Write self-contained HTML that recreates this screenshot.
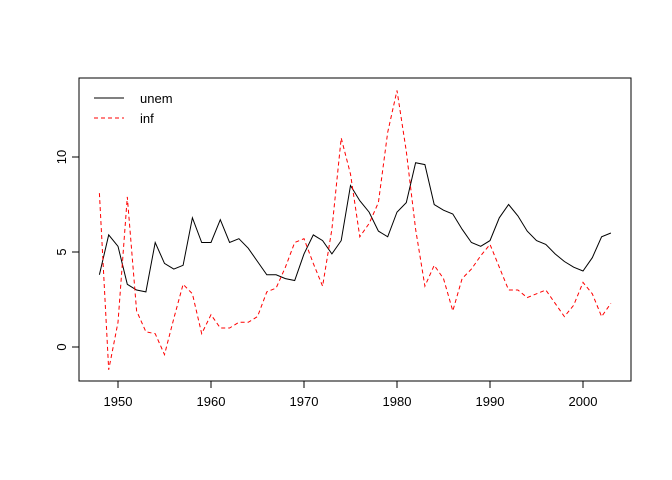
<!DOCTYPE html>
<html><head><meta charset="utf-8"><style>
body{margin:0;background:#fff}
svg{display:block;font-family:"Liberation Sans",Arial,sans-serif}
</style></head><body>
<svg id="chart" width="672" height="480">
<rect x="79" y="78" width="552" height="303" fill="none" stroke="#000"/>
<g id="axes"></g>
<g id="series"></g>
<g>
<line x1="94" y1="98" x2="124" y2="98" stroke="#000"/>
<text x="140" y="103" font-size="13">unem</text>
<line x1="94" y1="118" x2="124" y2="118" stroke="#f00" stroke-dasharray="4,3"/>
<text x="140" y="123" font-size="13">inf</text>
</g>
</svg>
<script>
const years=[1948,1949,1950,1951,1952,1953,1954,1955,1956,1957,1958,1959,1960,1961,1962,1963,1964,1965,1966,1967,1968,1969,1970,1971,1972,1973,1974,1975,1976,1977,1978,1979,1980,1981,1982,1983,1984,1985,1986,1987,1988,1989,1990,1991,1992,1993,1994,1995,1996,1997,1998,1999,2000,2001,2002,2003];
const unem=[3.8,5.9,5.3,3.3,3.0,2.9,5.5,4.4,4.1,4.3,6.8,5.5,5.5,6.7,5.5,5.7,5.2,4.5,3.8,3.8,3.6,3.5,4.9,5.9,5.6,4.9,5.6,8.5,7.7,7.1,6.1,5.8,7.1,7.6,9.7,9.6,7.5,7.2,7.0,6.2,5.5,5.3,5.6,6.8,7.5,6.9,6.1,5.6,5.4,4.9,4.5,4.2,4.0,4.7,5.8,6.0];
const inf=[8.1,-1.2,1.3,7.9,1.9,0.8,0.7,-0.4,1.5,3.3,2.8,0.7,1.7,1.0,1.0,1.3,1.3,1.6,2.9,3.1,4.2,5.5,5.7,4.4,3.2,6.2,11.0,9.1,5.8,6.5,7.6,11.3,13.5,10.3,6.2,3.2,4.3,3.6,1.9,3.6,4.1,4.8,5.4,4.2,3.0,3.0,2.6,2.8,3.0,2.3,1.6,2.2,3.4,2.8,1.6,2.3];
const xTicks=[1950,1960,1970,1980,1990,2000];
const yTicks=[0,5,10];
const NS="http://www.w3.org/2000/svg";
const X=v=>118+(v-1950)*9.3;
const Y=v=>347-v*19;
const ax=document.getElementById('axes'),se=document.getElementById('series');
function mk(t,a,p){const e=document.createElementNS(NS,t);for(const k in a)e.setAttribute(k,a[k]);p.appendChild(e);return e;}
let xa=mk('line',{x1:X(1950),x2:X(2000),y1:381,y2:381,stroke:'#000'},ax);


xTicks.forEach(t=>{const l=mk('line',{x1:X(t),x2:X(t),y1:381,y2:388,stroke:'#000'},ax);


const tx=mk('text',{x:X(t),y:406,'font-size':13,'text-anchor':'middle'},ax);tx.textContent=t;

});
let ya=mk('line',{x1:79,x2:79,y1:Y(0),y2:Y(10),stroke:'#000'},ax);


yTicks.forEach(t=>{const l=mk('line',{x1:72,x2:79,y1:Y(t),y2:Y(t),stroke:'#000'},ax);


const tx=mk('text',{x:0,y:0,'font-size':13,'text-anchor':'middle',transform:`translate(66,${Y(t)}) rotate(-90)`},ax);tx.textContent=t;

});
const p1=mk('polyline',{points:years.map((y,i)=>X(y)+','+Y(unem[i])).join(' '),fill:'none',stroke:'#000'},se);


const p2=mk('polyline',{points:years.map((y,i)=>X(y)+','+Y(inf[i])).join(' '),fill:'none',stroke:'#f00','stroke-dasharray':'4,3'},se);


</script>
</body></html>
